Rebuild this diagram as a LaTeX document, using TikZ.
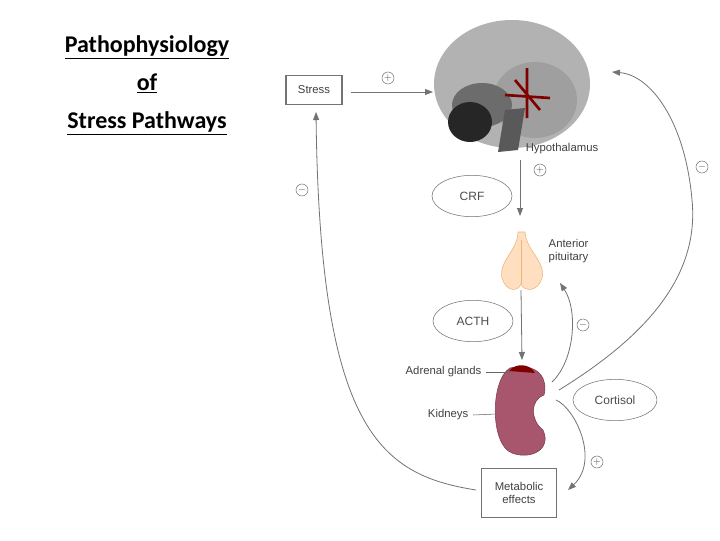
\documentclass[tikz,border=0pt]{standalone}
\usepackage{fontspec}
\setmainfont{Liberation Sans}
\newfontfamily\titlefont{Carlito}
\usetikzlibrary{arrows.meta,shapes.geometric}
\definecolor{kidc}{HTML}{A8566E}
\begin{document}
\begin{tikzpicture}[x=0.75pt,y=-0.75pt,
  lab/.style={font=\fontsize{8.5}{10}\selectfont, text=black!75},
  oval/.style={ellipse, draw=black!55, minimum width=60pt, minimum height=31pt, font=\fontsize{9}{10}\selectfont, text=black!70},
  box/.style={draw=black!55, line width=0.8pt, font=\fontsize{8.5}{10}\selectfont, text=black!75, align=center},
  sgn/.style={circle, draw=black!55, inner sep=0pt, minimum size=9pt, font=\fontsize{7}{7}\selectfont, text=black!65},
  con/.style={draw=black!55, line width=0.6pt, -{Triangle[length=6pt,width=4.5pt]}}]
\useasboundingbox (0,0) rectangle (720,540);
\fill[white] (0,0) rectangle (720,540);
% title
\node[font=\titlefont\bfseries\fontsize{18}{28.5}\selectfont, align=center] (title) at (147,85)
 {\underline{Pathophysiology}\\\underline{of}\\\underline{Stress Pathways}};
% brain
\fill[gray!60] (512,84) ellipse (78 and 64);
\fill[gray!75] (535,100) ellipse (42 and 38);
\fill[gray!85!black] (482,105) ellipse (30 and 22);
\fill[black!85] (470,122) ellipse (22 and 20);
\fill[gray!70!black] (505,110) -- (525,108) -- (518,150) -- (498,152) -- cycle;
\draw[red!50!black, line width=2pt] (527,68) -- (527,118) (505,95) -- (550,98) (515,80) -- (540,110);
\coordinate (brainL) at (433,92);
\coordinate (brainR) at (612,72);
\coordinate (brainB) at (520,160);
\node[lab] (hyp) at (562,149) {Hypothalamus};
% stress
\node[box, minimum width=42pt, minimum height=22pt] (stress) at (314,90) {Stress};
\node[box, minimum width=56pt, minimum height=37pt, inner sep=2pt] (meta) at (519,493) {Metabolic\\effects};
% pituitary
\fill[orange!25, draw=orange!50!brown!60] (518,232) .. controls (518,250) and (498,262) .. (502,278) .. controls (506,292) and (518,292) .. (521,284) .. controls (524,292) and (538,292) .. (542,278) .. controls (546,262) and (526,250) .. (525,232) -- cycle;
\draw[orange!50!brown!60] (521,240) -- (521,284);
\coordinate (pit) at (521,290);
\node[lab, align=left, anchor=west] (antp) at (544,251) {Anterior\\pituitary};
% kidney
\fill[kidc, draw=kidc!70!black] (510,368) .. controls (540,362) and (548,380) .. (544,395) .. controls (530,400) and (530,420) .. (543,430) .. controls (552,450) and (530,460) .. (512,453) .. controls (490,445) and (490,380) .. (510,368) -- cycle;
\fill[red!50!black] (509,371) .. controls (515,363) and (530,363) .. (535,373) -- cycle;
\node[lab, anchor=east] (adr) at (486,372) {Adrenal glands};
\node[lab, anchor=east] (kid) at (473,415) {Kidneys};
\draw[black!60] (adr.east) -- (510,372);
\draw[black!60] (kid.east) -- (496,414);
\coordinate (kidT) at (522,360);
\coordinate (c1) at (552,382);
\coordinate (c2) at (559,390);
\coordinate (c3) at (556,400);
% ovals
\node[oval] (crf) at (472,196) {CRF};
\node[oval] (acth) at (473,321) {ACTH};
\node[oval, minimum width=63pt] (cort) at (615,400) {Cortisol};
% signs
\node[sgn] (s1) at (388,78) {$+$};
\node[sgn] (s2) at (540,170) {$+$};
\node[sgn] (s3) at (583,325) {$-$};
\node[sgn] (s4) at (702,167) {$-$};
\node[sgn] (s5) at (597,462) {$+$};
\node[sgn] (s6) at (302,190) {$-$};
% connectors
\draw[con] (stress.east) ++(8,2) -- (brainL);
\draw[con] (brainB) -- (520,216);
\draw[con] (pit) -- (kidT);
\draw[con] (c1) .. controls (575,360) and (578,310) .. (560,283);
\draw[con] (c2) .. controls (640,340) and (700,280) .. (692,200) .. controls (685,120) and (650,75) .. (brainR);
\draw[con] (c3) .. controls (575,408) and (600,460) .. (568,490);
\draw[con] (meta.west) ++(-5,-3) .. controls (380,475) and (320,430) .. (316,112);
\end{tikzpicture}
\end{document}
